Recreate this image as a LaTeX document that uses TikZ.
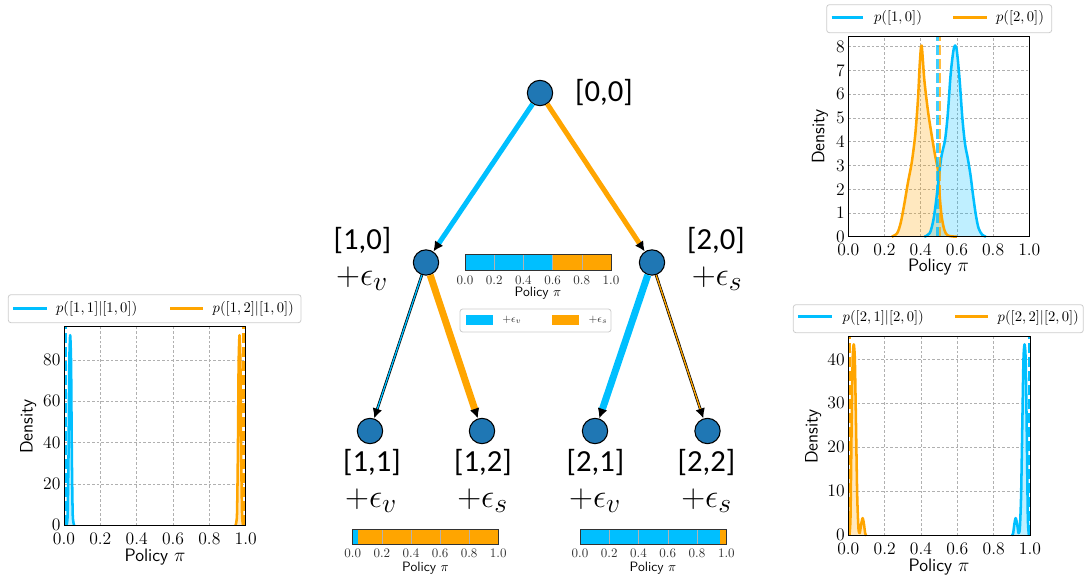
\documentclass[tikz,border=0pt]{standalone}
\usepackage{fontspec}
\newfontfamily\calibri{Carlito}
\usetikzlibrary{arrows.meta}
\definecolor{cy}{HTML}{00BFFF}
\definecolor{org}{HTML}{FFA500}
\definecolor{nodeblue}{HTML}{1F77B4}
\definecolor{gridgray}{HTML}{B0B0B0}
\definecolor{legedge}{HTML}{CCCCCC}
\tikzset{
 state/.style={circle,draw=black,line width=0.8pt,fill=nodeblue,minimum size=19pt,inner sep=0pt},
 lbl/.style={font=\calibri\fontsize{23}{26}\selectfont,inner sep=0pt},
 epslbl/.style={font=\fontsize{24.88}{28}\selectfont,inner sep=0pt},
 tip/.style={-{Latex[length=7.5pt,width=7.5pt,color=black]}},
 gridl/.style={gridgray,line width=0.5pt,dash pattern=on 2pt off 1.5pt},
 frame/.style={black,line width=0.6pt},
 tickl/.style={font=\fontsize{13.2}{15}\selectfont,inner sep=0pt},
 axlab/.style={font=\sffamily\fontsize{13.5}{15}\selectfont,inner sep=0pt},
 legbox/.style={draw=legedge,fill=white,rounded corners=2pt,line width=0.6pt},
 legtxt/.style={font=\fontsize{10.95}{12}\selectfont,inner sep=0pt},
 legline/.style={line width=2.2pt},
 curve/.style={line width=1.9pt,line join=round},
 meanl/.style={line width=2pt,dash pattern=on 7.5pt off 3pt},
 cbtick/.style={font=\fontsize{9.75}{11}\selectfont,inner sep=0pt,text=black!80},
 cblab/.style={font=\sffamily\fontsize{10.2}{12}\selectfont,inner sep=0pt},
 cbframe/.style={draw=black!80,line width=0.6pt},
 cbgrid/.style={black!30,line width=0.4pt},
 smalleg/.style={font=\fontsize{8.3}{10}\selectfont,inner sep=0pt,text=black!80},
}
\begin{document}
\begin{tikzpicture}[x=0.75pt,y=-0.75pt]
\useasboundingbox (0,0) rectangle (1085,577);

% ---------------- tree ----------------
\node[state] (n00) at (540,93) {};
\node[state] (n10) at (426,262.5) {};
\node[state] (n20) at (652,262.5) {};
\node[state] (n11) at (370,431) {};
\node[state] (n12) at (482,431) {};
\node[state] (n21) at (595,431) {};
\node[state] (n22) at (707.5,431) {};

\draw[cy,line width=3.75pt,tip] (n00) -- (n10);
\draw[org,line width=3.75pt,tip] (n00) -- (n20);
\draw[org,line width=5.25pt,tip] (n10) -- (n12);
\draw[cy,line width=5.25pt,tip] (n20) -- (n21);
\draw[black,line width=2pt,tip] (n10) -- (n11);
\draw[cy,line width=1pt,shorten >=7.5pt] (n10) -- (n11);
\draw[black,line width=2pt,tip] (n20) -- (n22);
\draw[org,line width=1pt,shorten >=7.5pt] (n20) -- (n22);

\node[lbl] (l00) at (604,93) {[0,0]};
\node[lbl] (l10) at (362.5,241) {[1,0]};
\node[epslbl] (e10) at (362,279) {$+\epsilon_v$};
\node[lbl] (l20) at (716,241) {[2,0]};
\node[epslbl] (e20) at (717,279) {$+\epsilon_s$};
\node[lbl] (l11) at (372,463) {[1,1]};
\node[epslbl] (e11) at (371,501) {$+\epsilon_v$};
\node[lbl] (l12) at (483,463) {[1,2]};
\node[epslbl] (e12) at (482.5,501) {$+\epsilon_s$};
\node[lbl] (l21) at (595.5,463) {[2,1]};
\node[epslbl] (e21) at (595,501) {$+\epsilon_v$};
\node[lbl] (l22) at (706.5,463) {[2,2]};
\node[epslbl] (e22) at (706.5,501) {$+\epsilon_s$};

% ---------------- center colorbar ----------------
\fill[cy] (465,254) rectangle (552.6,270);
\fill[org] (552.6,254) rectangle (611,270);
\foreach \i in {1,...,4} \draw[cbgrid] ({465+29.2*\i},254) -- ({465+29.2*\i},270);
\draw[cbframe] (465,254) rectangle (611,270);
\foreach \v [count=\i from 0] in {0.0,0.2,0.4,0.6,0.8,1.0}
  \node[cbtick] (ca\i) at ({465+29.2*\i},280.7) {\v};
\node[cblab] (cap) at (538,292.7) {Policy $\pi$};
\draw[legbox] (460,309) rectangle (611,332);
\fill[cy] (466,315) rectangle (493,325);
\fill[org] (552,315) rectangle (579,325);
\node[smalleg] (lgv) at (512,320) {$+\epsilon_v$};
\node[smalleg] (lgs) at (598,320) {$+\epsilon_s$};

% ---------------- bottom-left colorbar ----------------
\fill[cy] (352.7,529.3) rectangle (357.8,544.3);
\fill[org] (357.8,529.3) rectangle (498.3,544.3);
\foreach \i in {1,...,4} \draw[cbgrid] ({352.7+29.12*\i},529.3) -- ({352.7+29.12*\i},544.3);
\draw[cbframe] (352.7,529.3) rectangle (498.3,544.3);
\foreach \v [count=\i from 0] in {0.0,0.2,0.4,0.6,0.8,1.0}
  \node[cbtick] (cb\i) at ({352.7+29.12*\i},553) {\v};
\node[cblab] (cbp) at (425.5,567.7) {Policy $\pi$};

% ---------------- bottom-right colorbar ----------------
\fill[cy] (580,529.3) rectangle (720.4,544.3);
\fill[org] (720.4,529.3) rectangle (726.3,544.3);
\foreach \i in {1,...,4} \draw[cbgrid] ({580+29.26*\i},529.3) -- ({580+29.26*\i},544.3);
\draw[cbframe] (580,529.3) rectangle (726.3,544.3);
\foreach \v [count=\i from 0] in {0.0,0.2,0.4,0.6,0.8,1.0}
  \node[cbtick] (cc\i) at ({580+29.26*\i},553) {\v};
\node[cblab] (ccp) at (653,567.7) {Policy $\pi$};

% ---------------- top-right plot ----------------
\begin{scope}[xshift=636.225pt,yshift=-177.525pt,x=135.75pt,y=17.8125pt]
 \foreach \v in {0.2,0.4,0.6,0.8} \draw[gridl] (\v,0) -- (\v,8.45);
 \foreach \v in {1,...,8} \draw[gridl] (0,\v) -- (1,\v);
 \fill[org,opacity=0.25] plot[smooth,tension=0.5] coordinates {(0.24,0) (0.27,0.15) (0.29,0.6) (0.31,1.4) (0.33,2.3) (0.35,3.1) (0.37,4.3) (0.385,5.8) (0.395,7.3) (0.405,8.05) (0.42,6.6) (0.44,5.3) (0.46,4.3) (0.48,3.4) (0.495,2.8) (0.505,1.7) (0.515,0.9) (0.53,0.3) (0.55,0.05) (0.6,0)} -- cycle;
 \fill[cy,opacity=0.25] plot[smooth,tension=0.5] coordinates {(0.42,0) (0.45,0.15) (0.47,0.7) (0.485,1.5) (0.5,2.5) (0.515,3.4) (0.535,4.1) (0.55,5.2) (0.565,6.8) (0.58,7.8) (0.59,8.05) (0.60,7.8) (0.615,6.6) (0.63,5.0) (0.645,3.9) (0.66,3.3) (0.675,2.6) (0.69,1.7) (0.705,0.9) (0.72,0.35) (0.74,0.08) (0.76,0)} -- cycle;
 \draw[org,curve] plot[smooth,tension=0.5] coordinates {(0.24,0) (0.27,0.15) (0.29,0.6) (0.31,1.4) (0.33,2.3) (0.35,3.1) (0.37,4.3) (0.385,5.8) (0.395,7.3) (0.405,8.05) (0.42,6.6) (0.44,5.3) (0.46,4.3) (0.48,3.4) (0.495,2.8) (0.505,1.7) (0.515,0.9) (0.53,0.3) (0.55,0.05) (0.6,0)};
 \draw[cy,curve] plot[smooth,tension=0.5] coordinates {(0.42,0) (0.45,0.15) (0.47,0.7) (0.485,1.5) (0.5,2.5) (0.515,3.4) (0.535,4.1) (0.55,5.2) (0.565,6.8) (0.58,7.8) (0.59,8.05) (0.60,7.8) (0.615,6.6) (0.63,5.0) (0.645,3.9) (0.66,3.3) (0.675,2.6) (0.69,1.7) (0.705,0.9) (0.72,0.35) (0.74,0.08) (0.76,0)};
 \draw[cy,meanl,opacity=0.75] (0.492,0) -- (0.492,8.45);
 \draw[org,meanl,opacity=0.75] (0.507,0) -- (0.507,8.45);
 \draw[frame] (0,0) rectangle (1,8.45);
 \foreach \v [count=\i] in {0.0,0.2,0.4,0.6,0.8,1.0} \node[tickl,anchor=north] (tx\i) at ([yshift=-5pt]\v,0) {\v};
 \foreach \v in {0,...,8} \node[tickl,anchor=east] (ty\v) at ([xshift=-2.5pt]0,\v) {\v};
\end{scope}
\node[axlab] (tpx) at (938.5,266.7) {Policy $\pi$};
\node[axlab,rotate=90] (tpy) at (820,136.7) {Density};
\draw[legbox] (826.7,4.7) rectangle (1051.7,32.7);
\draw[cy,legline] (831.7,17.3) -- (863.3,17.3);
\node[legtxt] (tl1) at (898,18) {$p([1,0])$};
\draw[org,legline] (953,17.3) -- (987,17.3);
\node[legtxt] (tl2) at (1020,18) {$p([2,0])$};

% ---------------- left plot ----------------
\begin{scope}[xshift=48pt,yshift=-393.975pt,x=136.275pt,y=1.55pt]
 \foreach \v in {0.2,0.4,0.6,0.8} \draw[gridl] (\v,0) -- (\v,96.4);
 \foreach \v in {20,40,60,80} \draw[gridl] (0,\v) -- (1,\v);
 \fill[cy,opacity=0.25] plot[smooth,tension=0.4] coordinates {(0.014,0) (0.020,5) (0.025,35) (0.029,78) (0.034,92) (0.039,78) (0.043,35) (0.048,5) (0.056,0)} -- cycle;
 \fill[org,opacity=0.25] plot[smooth,tension=0.4] coordinates {(0.944,0) (0.952,5) (0.957,35) (0.961,78) (0.966,92) (0.971,78) (0.975,35) (0.980,5) (0.986,0)} -- cycle;
 \draw[cy,curve] plot[smooth,tension=0.4] coordinates {(0.014,0) (0.020,5) (0.025,35) (0.029,78) (0.034,92) (0.039,78) (0.043,35) (0.048,5) (0.056,0)};
 \draw[org,curve] plot[smooth,tension=0.4] coordinates {(0.944,0) (0.952,5) (0.957,35) (0.961,78) (0.966,92) (0.971,78) (0.975,35) (0.980,5) (0.986,0)};
 \draw[cy,meanl] (0.009,0) -- (0.009,96.4);
 \draw[org,meanl] (0.988,0) -- (0.988,96.4);
 \draw[frame] (0,0) rectangle (1,96.4);
 \foreach \v [count=\i] in {0.0,0.2,0.4,0.6,0.8,1.0} \node[tickl,anchor=north] (lx\i) at ([yshift=-5.5pt]\v,0) {\v};
 \foreach \v in {0,20,40,60,80} \node[tickl,anchor=east] (ly\v) at ([xshift=-2.5pt]0,\v) {\v};
\end{scope}
\node[axlab] (lpx) at (155,556.7) {Policy $\pi$};
\node[axlab,rotate=90] (lpy) at (28.3,426.7) {Density};
\draw[legbox] (8.3,294.7) rectangle (301,322.7);
\draw[cy,legline] (13.3,308.3) -- (46.7,308.3);
\node[legtxt] (ll1) at (96.7,309.3) {$p([1,1]|[1,0])$};
\draw[org,legline] (170,308.3) -- (203.3,308.3);
\node[legtxt] (ll2) at (253.3,309.3) {$p([1,2]|[1,0])$};

% ---------------- bottom-right plot ----------------
\begin{scope}[xshift=636.225pt,yshift=-401.475pt,x=136.275pt,y=3.3pt]
 \foreach \v in {0.2,0.4,0.6,0.8} \draw[gridl] (\v,0) -- (\v,45.3);
 \foreach \v in {10,20,30,40} \draw[gridl] (0,\v) -- (1,\v);
 \fill[org,opacity=0.25] plot[smooth,tension=0.4] coordinates {(0.006,0) (0.012,4) (0.018,24) (0.024,40) (0.030,43.4) (0.036,40) (0.042,26) (0.049,9) (0.056,1.5) (0.063,0.5) (0.071,2.6) (0.079,3.9) (0.086,2.6) (0.093,0.4) (0.100,0)} -- cycle;
 \fill[cy,opacity=0.25] plot[smooth,tension=0.4] coordinates {(0.900,0) (0.907,0.4) (0.914,2.6) (0.921,3.9) (0.929,2.6) (0.937,0.5) (0.944,1.5) (0.951,9) (0.958,26) (0.964,40) (0.970,43.4) (0.976,40) (0.982,24) (0.988,4) (0.994,0)} -- cycle;
 \draw[org,curve] plot[smooth,tension=0.4] coordinates {(0.006,0) (0.012,4) (0.018,24) (0.024,40) (0.030,43.4) (0.036,40) (0.042,26) (0.049,9) (0.056,1.5) (0.063,0.5) (0.071,2.6) (0.079,3.9) (0.086,2.6) (0.093,0.4) (0.100,0)};
 \draw[cy,curve] plot[smooth,tension=0.4] coordinates {(0.900,0) (0.907,0.4) (0.914,2.6) (0.921,3.9) (0.929,2.6) (0.937,0.5) (0.944,1.5) (0.951,9) (0.958,26) (0.964,40) (0.970,43.4) (0.976,40) (0.982,24) (0.988,4) (0.994,0)};
 \draw[org,meanl] (0.005,0) -- (0.005,45.3);
 \draw[cy,meanl] (0.995,0) -- (0.995,45.3);
 \draw[frame] (0,0) rectangle (1,45.3);
 \foreach \v [count=\i] in {0.0,0.2,0.4,0.6,0.8,1.0} \node[tickl,anchor=north] (bx\i) at ([yshift=-5.5pt]\v,0) {\v};
 \foreach \v in {0,10,20,30,40} \node[tickl,anchor=east] (by\v) at ([xshift=-2.5pt]0,\v) {\v};
\end{scope}
\node[axlab] (bpx) at (939,566.7) {Policy $\pi$};
\node[axlab,rotate=90] (bpy) at (813.3,436.7) {Density};
\draw[legbox] (793.3,304.7) rectangle (1083.3,332.7);
\draw[cy,legline] (798.3,316.7) -- (831.7,316.7);
\node[legtxt] (bl1) at (883.3,318.3) {$p([2,1]|[2,0])$};
\draw[org,legline] (955,316.7) -- (988.3,316.7);
\node[legtxt] (bl2) at (1038.3,318.3) {$p([2,2]|[2,0])$};
\end{tikzpicture}
\end{document}
